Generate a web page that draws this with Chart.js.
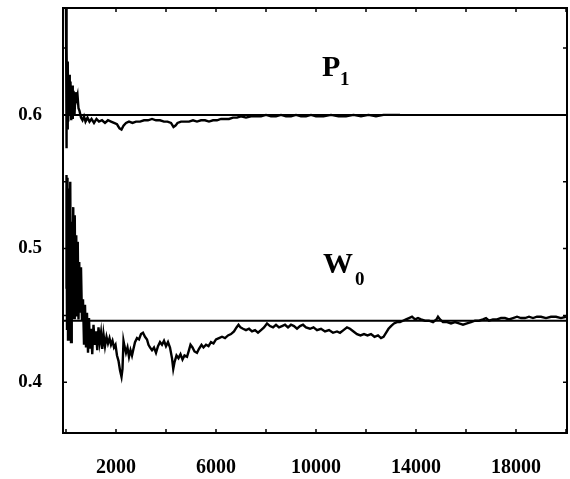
<!DOCTYPE html>
<html>
<head>
<meta charset="utf-8">
<script src="https://cdn.jsdelivr.net/npm/chart.js@4/dist/chart.umd.min.js"></script>
<style>
    html, body {
        margin: 0;
        padding: 0;
        background: #ffffff;
    }

    #box {
        width: 570px;
        height: 479px;
    }
</style>
</head>
<body>

<div id="box">
    <canvas id="convChart"></canvas>
</div>

<script>

// axis ticks
const xTicks = [0, 2000, 4000, 6000, 8000, 10000, 12000, 14000, 16000, 18000, 20000];
const xLabels = [2000, 6000, 10000, 14000, 18000];
const yLabels = [0.4, 0.5, 0.6];
const yMinor = [0.4, 0.45, 0.5, 0.55, 0.6, 0.65];

// limits the two estimates settle to
const p1Limit = 0.6;
const w0Limit = 0.446;

// P1 estimate vs iterations
const p1X = [
    0, 15, 30, 50, 70, 90, 120, 150, 180, 210, 240, 270, 300, 340, 380, 420, 460, 500, 540,
    600, 660, 720, 780, 860, 940, 1020, 1120, 1220, 1320, 1440, 1560, 1680, 1800, 1920,
    2040, 2140, 2220, 2300, 2400, 2520, 2660, 2800, 2960, 3120, 3280, 3440, 3600, 3760,
    3920, 4060, 4200, 4300, 4380, 4460, 4600, 4760, 4920, 5080, 5240, 5400, 5560, 5720,
    5880, 6040, 6200, 6360, 6520, 6680, 6840, 7000, 7200, 7400, 7600, 7800, 8000, 8200,
    8400, 8600, 8800, 9000, 9200, 9400, 9600, 9800, 10000, 10300, 10600, 10900, 11200,
    11500, 11800, 12100, 12400, 12700, 13000, 13360
];
const p1Y = [
    0.68, 0.575, 0.65, 0.59, 0.64, 0.595, 0.63, 0.6, 0.625, 0.596, 0.622, 0.597, 0.618, 0.6,
    0.617, 0.612, 0.615, 0.605, 0.603, 0.598, 0.596, 0.599, 0.595, 0.598, 0.595, 0.597,
    0.594, 0.597, 0.595, 0.596, 0.594, 0.596, 0.595, 0.594, 0.593, 0.59, 0.589, 0.592,
    0.594, 0.595, 0.594, 0.595, 0.595, 0.596, 0.596, 0.597, 0.596, 0.596, 0.595, 0.595,
    0.594, 0.591, 0.592, 0.594, 0.595, 0.595, 0.595, 0.596, 0.595, 0.596, 0.596, 0.595,
    0.596, 0.596, 0.597, 0.597, 0.597, 0.598, 0.598, 0.599, 0.598, 0.599, 0.599, 0.599,
    0.6, 0.599, 0.599, 0.6, 0.599, 0.599, 0.6, 0.599, 0.599, 0.6, 0.599, 0.599, 0.6,
    0.599, 0.599, 0.6, 0.599, 0.6, 0.599, 0.6, 0.6, 0.6
];

// W0 estimate vs iterations
const w0X = [
    0, 20, 40, 60, 80, 110, 140, 170, 200, 230, 260, 290, 320, 350, 380, 410, 440, 470, 500,
    530, 560, 600, 640, 680, 720, 760, 800, 840, 880, 920, 960, 1000, 1050, 1100, 1150,
    1200, 1250, 1300, 1350, 1400, 1450, 1500, 1560, 1620, 1680, 1740, 1800, 1860, 1920,
    1980, 2040, 2100, 2160, 2220, 2260, 2300, 2340, 2400, 2460, 2520, 2580, 2640, 2700,
    2760, 2840, 2920, 3000, 3080, 3160, 3240, 3300, 3360, 3440, 3520, 3600, 3680, 3760,
    3840, 3920, 4000, 4080, 4160, 4240, 4290, 4340, 4420, 4500, 4580, 4660, 4740, 4840,
    4920, 4980, 5060, 5140, 5240, 5320, 5420, 5500, 5600, 5700, 5800, 5900, 6000, 6120,
    6240, 6360, 6480, 6600, 6720, 6820, 6900, 6980, 7080, 7200, 7320, 7440, 7560, 7680,
    7800, 7920, 8040, 8160, 8280, 8400, 8520, 8640, 8760, 8880, 9000, 9120, 9240, 9360,
    9480, 9600, 9760, 9900, 10040, 10200, 10360, 10520, 10680, 10840, 10960, 11100, 11240,
    11360, 11500, 11640, 11780, 11920, 12060, 12200, 12340, 12480, 12600, 12700, 12800,
    12900, 13000, 13120, 13240, 13360, 13480, 13600, 13720, 13840, 13960, 14080, 14200,
    14360, 14520, 14680, 14820, 14880, 14960, 15080, 15240, 15400, 15560, 15720, 15880,
    16040, 16200, 16360, 16520, 16680, 16800, 16920, 17080, 17240, 17400, 17560, 17720,
    17880, 18040, 18200, 18360, 18520, 18680, 18840, 19000, 19200, 19400, 19600, 19800,
    20000
];
const w0Y = [
    0.47, 0.555, 0.44, 0.553, 0.432, 0.545, 0.46, 0.55, 0.43, 0.52, 0.47, 0.531, 0.448,
    0.525, 0.452, 0.51, 0.45, 0.505, 0.447, 0.49, 0.452, 0.486, 0.446, 0.462, 0.428, 0.458,
    0.426, 0.452, 0.422, 0.448, 0.425, 0.44, 0.421, 0.443, 0.428, 0.438, 0.424, 0.441, 0.43,
    0.437, 0.425, 0.436, 0.427, 0.434, 0.429, 0.433, 0.428, 0.431, 0.426, 0.428, 0.42,
    0.416, 0.409, 0.404, 0.41, 0.431, 0.427, 0.422, 0.426, 0.419, 0.424, 0.42, 0.425, 0.43,
    0.433, 0.432, 0.436, 0.437, 0.434, 0.432, 0.428, 0.426, 0.424, 0.426, 0.422, 0.427,
    0.43, 0.428, 0.431, 0.427, 0.43, 0.426, 0.418, 0.41, 0.415, 0.42, 0.418, 0.421, 0.417,
    0.42, 0.419, 0.424, 0.428, 0.426, 0.423, 0.422, 0.425, 0.428, 0.426, 0.428, 0.427,
    0.43, 0.429, 0.432, 0.433, 0.434, 0.433, 0.435, 0.436, 0.438, 0.441, 0.443, 0.441,
    0.44, 0.439, 0.44, 0.438, 0.439, 0.437, 0.439, 0.441, 0.444, 0.442, 0.441, 0.443,
    0.441, 0.442, 0.443, 0.441, 0.443, 0.442, 0.44, 0.442, 0.443, 0.441, 0.44, 0.441,
    0.439, 0.44, 0.438, 0.439, 0.437, 0.438, 0.437, 0.439, 0.441, 0.44, 0.438, 0.436,
    0.435, 0.436, 0.435, 0.436, 0.434, 0.435, 0.433, 0.434, 0.437, 0.44, 0.442, 0.444,
    0.445, 0.445, 0.446, 0.447, 0.448, 0.449, 0.447, 0.448, 0.447, 0.446, 0.446, 0.445,
    0.447, 0.449, 0.447, 0.445, 0.445, 0.444, 0.445, 0.444, 0.443, 0.444, 0.445, 0.446,
    0.446, 0.447, 0.448, 0.446, 0.447, 0.447, 0.448, 0.448, 0.447, 0.448, 0.449, 0.448,
    0.448, 0.449, 0.448, 0.449, 0.449, 0.448, 0.449, 0.449, 0.448, 0.449
];

const X_MIN = -120;
const X_MAX = 20040;
const Y_MIN = 0.362;
const Y_MAX = 0.68;

const SERIF = "'Liberation Serif', 'DejaVu Serif', serif";

function toPoints(xs, ys) {
    return xs.map((x, i) => ({ x: x, y: ys[i] }));
}

function flatLine(v) {
    return [
        { x: X_MIN, y: v },
        { x: X_MAX, y: v }
    ];
}

function lineSet(points, width) {
    return {
        data: points,
        showLine: true,
        borderColor: "#000000",
        borderWidth: width,
        pointRadius: 0,
        tension: 0,
        fill: false
    };
}

// frame, inward tick marks and the P1 / W0 labels
const framePlugin = {
    id: "frame",
    afterDraw(chart) {
        const ctx = chart.ctx;
        const a = chart.chartArea;
        const xs = chart.scales.x;
        const ys = chart.scales.y;

        ctx.save();
        ctx.strokeStyle = "#000000";
        ctx.lineWidth = 2;
        ctx.strokeRect(a.left, a.top, a.right - a.left, a.bottom - a.top);

        ctx.lineWidth = 1.5;
        ctx.beginPath();
        xTicks.forEach(v => {
            const px = xs.getPixelForValue(v);
            ctx.moveTo(px, a.bottom);
            ctx.lineTo(px, a.bottom - 4);
            ctx.moveTo(px, a.top);
            ctx.lineTo(px, a.top + 4);
        });
        yMinor.forEach(v => {
            const py = ys.getPixelForValue(v);
            ctx.moveTo(a.left, py);
            ctx.lineTo(a.left + 4, py);
            ctx.moveTo(a.right, py);
            ctx.lineTo(a.right - 4, py);
        });
        ctx.stroke();

        ctx.fillStyle = "#000000";
        ctx.textBaseline = "alphabetic";
        ctx.textAlign = "left";

        let px = xs.getPixelForValue(10240);
        let py = ys.getPixelForValue(0.629);
        ctx.font = "bold 30px " + SERIF;
        ctx.fillText("P", px, py);
        ctx.font = "bold 19px " + SERIF;
        ctx.fillText("1", px + 18, py + 9);

        px = xs.getPixelForValue(10280);
        py = ys.getPixelForValue(0.4816);
        ctx.font = "bold 30px " + SERIF;
        ctx.fillText("W", px, py);
        ctx.font = "bold 19px " + SERIF;
        ctx.fillText("0", px + 32, py + 12);

        ctx.restore();
    }
};

new Chart(
    document.getElementById("convChart"),
    {
        type: "scatter",
        data: {
            datasets: [
                lineSet(flatLine(p1Limit), 2),
                lineSet(flatLine(w0Limit), 2),
                lineSet(toPoints(p1X, p1Y), 2.4),
                lineSet(toPoints(w0X, w0Y), 2.4)
            ]
        },
        options: {
            responsive: true,
            maintainAspectRatio: false,
            animation: false,
            layout: {
                padding: { top: 8, right: 3, left: 0, bottom: 0 }
            },
            plugins: {
                legend: { display: false },
                tooltip: { enabled: false }
            },
            scales: {
                x: {
                    type: "linear",
                    min: X_MIN,
                    max: X_MAX,
                    afterBuildTicks: s => {
                        s.ticks = xLabels.map(v => ({ value: v }));
                    },
                    afterFit: s => {
                        s.height = 46;
                        s.paddingLeft = 0;
                        s.paddingRight = 0;
                    },
                    grid: { display: false, drawTicks: false },
                    border: { display: false },
                    ticks: {
                        padding: 23,
                        color: "#000000",
                        maxRotation: 0,
                        autoSkip: false,
                        font: { family: SERIF, size: 20, weight: "bold" },
                        callback: v => String(v)
                    }
                },
                y: {
                    type: "linear",
                    min: Y_MIN,
                    max: Y_MAX,
                    afterBuildTicks: s => {
                        s.ticks = yLabels.map(v => ({ value: v }));
                    },
                    afterFit: s => {
                        s.width = 63;
                        s.paddingTop = 0;
                        s.paddingBottom = 0;
                    },
                    grid: { display: false, drawTicks: false },
                    border: { display: false },
                    ticks: {
                        padding: 21,
                        color: "#000000",
                        autoSkip: false,
                        font: { family: SERIF, size: 19, weight: "bold" },
                        callback: v => v.toFixed(1)
                    }
                }
            }
        },
        plugins: [framePlugin]
    }
);

</script>
</body>
</html>
